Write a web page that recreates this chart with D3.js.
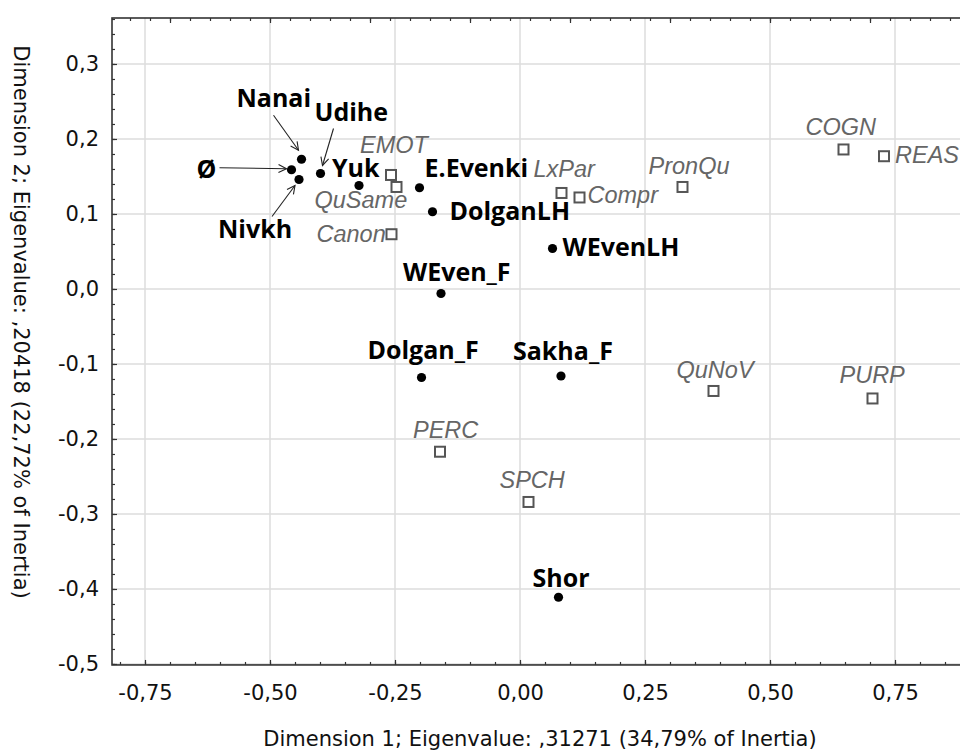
<!DOCTYPE html>
<html><head><meta charset="utf-8">
<script src="https://cdn.jsdelivr.net/npm/d3@7"></script>
<style>body{margin:0;background:#fff}svg{display:block}</style>
</head><body>
<script>
// ---- data ----
const rowNames = ["Ø","Nanai","Nivkh","Udihe","Yuk","E.Evenki","DolganLH","WEvenLH","WEven_F","Dolgan_F","Sakha_F","Shor"];
const rowDim1  = [-0.457,-0.437,-0.442,-0.399,-0.322,-0.201,-0.175,0.065,-0.158,-0.197,0.082,0.077];
const rowDim2  = [0.159,0.173,0.146,0.154,0.138,0.135,0.103,0.054,-0.006,-0.118,-0.116,-0.411];

const colNames = ["EMOT","QuSame","Canon","LxPar","Compr","PronQu","COGN","REAS","QuNoV","PURP","PERC","SPCH"];
const colDim1  = [-0.258,-0.247,-0.257,0.083,0.119,0.325,0.647,0.728,0.387,0.705,-0.160,0.017];
const colDim2  = [0.152,0.136,0.073,0.128,0.122,0.136,0.186,0.177,-0.136,-0.146,-0.217,-0.284];

const xTickValues = [-0.75,-0.50,-0.25,0,0.25,0.50,0.75];
const yTickValues = [0.3,0.2,0.1,0.0,-0.1,-0.2,-0.3,-0.4,-0.5];
const xTitle = "Dimension 1; Eigenvalue:  ,31271 (34,79% of Inertia)";
const yTitle = "Dimension 2; Eigenvalue:  ,20418 (22,72% of Inertia)";

// ---- label layout (pixel offsets from the mark) ----
const rowLabelOffsets = {
  "Ø":[-95,8], "Nanai":[-65,-52], "Nivkh":[-81,59], "Udihe":[-6,-52], "Yuk":[-27,-8],
  "E.Evenki":[5,-11], "DolganLH":[17,8], "WEvenLH":[10,8], "WEven_F":[-38,-12],
  "Dolgan_F":[-54,-18], "Sakha_F":[-48,-16], "Shor":[-26,-10]
};
const colLabelOffsets = {
  "EMOT":[-31,-22], "QuSame":[-82,21], "Canon":[-75,8], "LxPar":[-28,-16], "Compr":[8,6],
  "PronQu":[-34,-13], "COGN":[-38,-14], "REAS":[11,7], "QuNoV":[-37,-13], "PURP":[-33,-15],
  "PERC":[-27,-14], "SPCH":[-29,-14]
};
const arrows = [
  {name:"Nanai", from:[-28,-44], to:[-3,-9]},
  {name:"Udihe", from:[13,-45], to:[2,-8]},
  {name:"Ø",     from:[-72,-2], to:[-5,-1]},
  {name:"Nivkh", from:[-27,37], to:[-4,6]}
];

// ---- chart ----
const W = 960, H = 756;
const xDomain = [-0.816, 0.9], yDomain = [-0.5013, 0.3613];
const plotLeft = 112, plotTop = 18;
const x = d3.scaleLinear().domain(xDomain).range([plotLeft, plotLeft + (xDomain[1]-xDomain[0])*500]);
const y = d3.scaleLinear().domain(yDomain).range([plotTop + (yDomain[1]-yDomain[0])*750, plotTop]);
const [x0, x1] = x.range(), [y0b, y0t] = y.range();

const loc = d3.formatLocale({decimal:",", thousands:".", grouping:[3], currency:["",""], minus:"-"});
const fx = loc.format(".2f"), fy = loc.format(".1f");

const svg = d3.select("body").append("svg").attr("width", W).attr("height", H);
svg.append("rect").attr("width", W).attr("height", H).attr("fill", "#fff");

svg.append("defs").append("marker")
  .attr("id","ah").attr("markerUnits","userSpaceOnUse")
  .attr("viewBox","-10 -6 12 12").attr("refX",0).attr("refY",0)
  .attr("markerWidth",12).attr("markerHeight",12).attr("orient","auto")
  .append("path").attr("d","M-8,-4 L0,0 L-8,4").attr("fill","none").attr("stroke","#222").attr("stroke-width",1.1);

// grid
const grid = svg.append("g").attr("stroke","#dcdcdc").attr("stroke-width",1.5);
grid.selectAll(".gx").data(xTickValues).join("line")
  .attr("x1", d=>x(d)).attr("x2", d=>x(d)).attr("y1", y0t).attr("y2", y0b);
grid.selectAll(".gy").data(yTickValues).join("line")
  .attr("y1", d=>y(d)).attr("y2", d=>y(d)).attr("x1", x0).attr("x2", x1);

// minor ticks
const tickStyle = g => { g.select(".domain").remove(); g.selectAll("line").attr("stroke","#333").attr("stroke-width",1.2); };
svg.append("g").attr("transform",`translate(${x0},0)`)
  .call(d3.axisLeft(y).tickValues(d3.range(-50, 37, 2).map(v=>v/100)).tickSize(-3).tickFormat(""))
  .call(tickStyle);
svg.append("g").attr("transform",`translate(0,${y0b})`)
  .call(d3.axisBottom(x).tickValues(d3.range(-80, 91, 5).map(v=>v/100)).tickSize(-3).tickFormat(""))
  .call(tickStyle);
svg.append("g").attr("transform",`translate(0,${y0t})`)
  .call(d3.axisTop(x).tickValues(d3.range(-78, 91, 4).map(v=>v/100)).tickSize(-3).tickFormat(""))
  .call(tickStyle);
svg.append("g").attr("transform",`translate(0,${y0t})`)
  .call(d3.axisTop(x).tickValues(d3.range(-70, 91, 20).map(v=>v/100)).tickSize(-5).tickFormat(""))
  .call(tickStyle);

// major axes
const labStyle = g => g.selectAll("text").attr("font-family","'DejaVu Sans', sans-serif").attr("font-size",21).attr("fill","#111");
svg.append("g").attr("transform",`translate(${x0},0)`)
  .call(d3.axisLeft(y).tickValues(yTickValues).tickSize(-5).tickPadding(13).tickFormat(fy))
  .call(tickStyle).call(labStyle);
svg.append("g").attr("transform",`translate(0,${y0b})`)
  .call(d3.axisBottom(x).tickValues(xTickValues).tickSize(-5).tickPadding(20).tickFormat(fx))
  .call(tickStyle).call(labStyle);

// frame
svg.append("rect").attr("x", x0).attr("y", y0t).attr("width", x1-x0).attr("height", y0b-y0t)
  .attr("fill","none").attr("stroke","#333").attr("stroke-width",1.6);

// titles
svg.append("text").attr("x", (x0 + 960)/2 + 4).attr("y", 746).attr("text-anchor","middle")
  .attr("font-family","'DejaVu Sans', sans-serif").attr("font-size",21).attr("fill","#111").text(xTitle);
svg.append("text").attr("transform",`translate(14,322) rotate(90)`).attr("text-anchor","middle")
  .attr("font-family","'DejaVu Sans', sans-serif").attr("font-size",21).attr("fill","#111").text(yTitle);

const cols = colNames.map((n,i)=>({name:n, d1:colDim1[i], d2:colDim2[i]}));
const rows = rowNames.map((n,i)=>({name:n, d1:rowDim1[i], d2:rowDim2[i]}));

// column points (open squares)
svg.append("g").selectAll("rect").data(cols).join("rect")
  .attr("x", d=>x(d.d1)-5).attr("y", d=>y(d.d2)-5).attr("width",10).attr("height",10)
  .attr("fill","#fff").attr("stroke","#555").attr("stroke-width",2);
svg.append("g").selectAll("text").data(cols).join("text")
  .attr("x", d=>x(d.d1)+colLabelOffsets[d.name][0]).attr("y", d=>y(d.d2)+colLabelOffsets[d.name][1])
  .attr("font-family","'Liberation Sans', Arial, sans-serif").attr("font-style","italic")
  .attr("font-size",23.5).attr("fill","#666").text(d=>d.name);

// arrows
const rowByName = Object.fromEntries(rows.map(r=>[r.name, r]));
svg.append("g").selectAll("line").data(arrows).join("line")
  .attr("x1", a=>x(rowByName[a.name].d1)+a.from[0]).attr("y1", a=>y(rowByName[a.name].d2)+a.from[1])
  .attr("x2", a=>x(rowByName[a.name].d1)+a.to[0]).attr("y2", a=>y(rowByName[a.name].d2)+a.to[1])
  .attr("stroke","#222").attr("stroke-width",1.1).attr("marker-end","url(#ah)");

// row points (filled circles)
svg.append("g").selectAll("circle").data(rows).join("circle")
  .attr("cx", d=>x(d.d1)).attr("cy", d=>y(d.d2)).attr("r",4.6).attr("fill","#000");
svg.append("g").selectAll("text").data(rows).join("text")
  .attr("x", d=>x(d.d1)+rowLabelOffsets[d.name][0]).attr("y", d=>y(d.d2)+rowLabelOffsets[d.name][1])
  .attr("font-family","'Open Sans', sans-serif").attr("font-weight",700)
  .attr("font-size",25).attr("fill","#000").text(d=>d.name);
</script>
</body></html>
